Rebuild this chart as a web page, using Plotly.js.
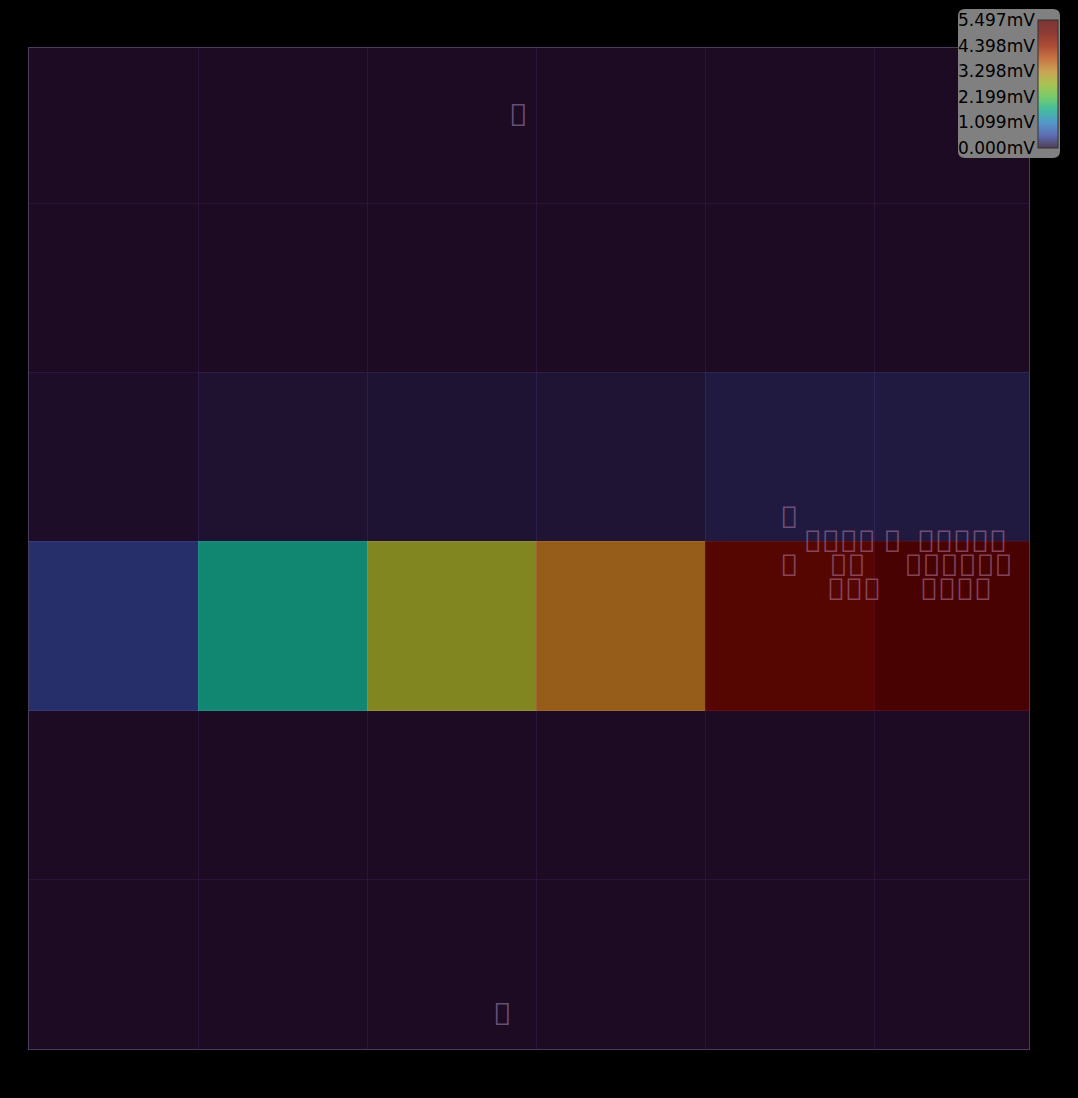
<!DOCTYPE html>
<html>
<head>
<meta charset="utf-8">
<script src="https://cdn.plot.ly/plotly-3.0.1.min.js"></script>
<style>html,body{margin:0;padding:0;background:#000;}#chart{width:1078px;height:1098px;}</style>
</head>
<body>
<div id="chart"></div>
<script>
// ---- data ----
var xCols = [0, 1, 2, 3, 4, 5];
var yRows = [0, 1, 2, 3, 4, 5];
var row0 = [0, 0, 0, 0, 0, 0];
var row1 = [0, 0, 0, 0, 0, 0];
var row2 = [0.41, 1.60, 2.91, 3.52, 5.10, 5.497];
var row3 = [0.03, 0.08, 0.09, 0.10, 0.17, 0.17];
var row4 = [0, 0, 0, 0, 0, 0];
var row5 = [0, 0, 0, 0, 0, 0];
var zMin = 0;
var zMax = 5.497;
var cbTickVals = [0, 1.099, 2.199, 3.298, 4.398, 5.497];
var cbUnit = 'mV';
var G = '\uE000';
var topText = G;
var bottomText = G;
var clusterLines = [
  G,
  '   ' + G + G + G + G + ' ' + G + '  ' + G + G + G + G + G,
  G + '    ' + G + G + '     ' + G + G + G + G + G + G,
  '      ' + G + G + G + '     ' + G + G + G + G
];

// ---- style ----
var alpha = 0.6;
var stops = [
  [0.0, [48, 18, 59]], [0.1, [70, 98, 215]], [0.2, [54, 170, 249]], [0.3, [26, 228, 182]],
  [0.4, [114, 254, 94]], [0.5, [200, 239, 52]], [0.6, [250, 186, 57]], [0.7, [246, 107, 25]],
  [0.8, [203, 42, 4]], [0.9, [150, 12, 1]], [1.0, [122, 4, 3]]
];
var colorscale = stops.map(function (s) {
  return [s[0], 'rgba(' + s[1][0] + ',' + s[1][1] + ',' + s[1][2] + ',' + alpha + ')'];
});

var L = 29, T = 48, PW = 1000, PH = 1001;
function px2x(px) { return (px - L) / PW; }
function py2y(py) { return (T + PH - py) / PH; }

var barTop = 20, barLen = 128;
var annotations = cbTickVals.map(function (v) {
  var py = barTop + barLen - (v - zMin) / (zMax - zMin) * barLen;
  return {
    xref: 'paper', yref: 'paper', x: px2x(1037), y: py2y(py),
    xanchor: 'right', yanchor: 'middle', showarrow: false,
    text: v.toFixed(3) + cbUnit,
    font: {family: 'DejaVu Sans', size: 17, color: '#000'}
  };
});
var tofuColor = 'rgba(150,130,175,0.6)';
annotations.push({xref: 'paper', yref: 'paper', x: px2x(518), y: py2y(114), xanchor: 'center', yanchor: 'middle', showarrow: false, text: topText, font: {family: 'Noto Sans', size: 31, color: tofuColor}});
annotations.push({xref: 'paper', yref: 'paper', x: px2x(502), y: py2y(1013), xanchor: 'center', yanchor: 'middle', showarrow: false, text: bottomText, font: {family: 'Noto Sans', size: 31, color: tofuColor}});
annotations.push({
  xref: 'paper', yref: 'paper', x: px2x(778), y: py2y(552), xanchor: 'left', yanchor: 'middle', align: 'left', showarrow: false,
  text: clusterLines.map(function (s) { return '<span style="font-size:30px">' + s + '</span>'; }).join('<br>'),
  font: {family: 'Noto Sans', size: 18.5, color: 'rgba(180,125,165,0.55)'}
});

// rounded grey box behind colorbar
var bx0 = 958, bx1 = 1060, by0 = 9, by1 = 158, r = 7;
function P(px, py) { return px2x(px).toFixed(5) + ',' + py2y(py).toFixed(5); }
var boxPath = 'M' + P(bx0 + r, by0) + ' L' + P(bx1 - r, by0) + ' Q' + P(bx1, by0) + ' ' + P(bx1, by0 + r) +
  ' L' + P(bx1, by1 - r) + ' Q' + P(bx1, by1) + ' ' + P(bx1 - r, by1) +
  ' L' + P(bx0 + r, by1) + ' Q' + P(bx0, by1) + ' ' + P(bx0, by1 - r) +
  ' L' + P(bx0, by0 + r) + ' Q' + P(bx0, by0) + ' ' + P(bx0 + r, by0) + ' Z';

var trace = {
  type: 'heatmap',
  x: xCols, y: yRows,
  z: [row0, row1, row2, row3, row4, row5],
  zmin: zMin, zmax: zMax,
  colorscale: colorscale,
  hoverinfo: 'skip',
  colorbar: {
    xref: 'paper', yref: 'paper',
    x: px2x(1038), xanchor: 'left', xpad: 0,
    y: py2y(barTop), yanchor: 'top', ypad: 0,
    thickness: 20, lenmode: 'pixels', len: barLen,
    outlinecolor: '#333', outlinewidth: 1,
    showticklabels: false, ticks: '', bgcolor: 'rgba(0,0,0,0)', borderwidth: 0
  }
};

var axisCommon = {
  range: [-0.5, 5.417], tick0: 0.5, dtick: 1,
  showgrid: true, gridcolor: 'rgb(42,22,58)', gridwidth: 1,
  zeroline: false, showticklabels: false, ticks: '',
  showline: true, mirror: true, linecolor: '#4a3c5c', linewidth: 1
};

var layout = {
  width: 1078, height: 1098,
  margin: {l: L, r: 1078 - L - PW, t: T, b: 1098 - T - PH, autoexpand: false},
  paper_bgcolor: '#000', plot_bgcolor: '#000',
  xaxis: Object.assign({}, axisCommon),
  yaxis: Object.assign({}, axisCommon),
  shapes: [{type: 'path', xref: 'paper', yref: 'paper', path: boxPath, fillcolor: '#808080', line: {width: 0}, layer: 'above'}],
  annotations: annotations,
  showlegend: false
};

Plotly.newPlot('chart', [trace], layout, {displayModeBar: false, staticPlot: true});
</script>
</body>
</html>
